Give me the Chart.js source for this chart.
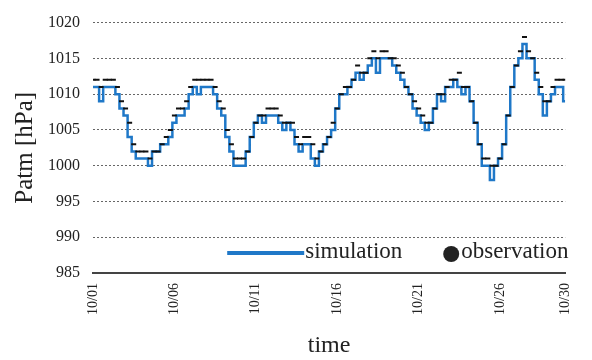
<!DOCTYPE html>
<html>
<head>
<meta charset="utf-8">
<script src="https://cdn.jsdelivr.net/npm/chart.js@4.4.0/dist/chart.umd.min.js"></script>
<style>
  html, body { margin: 0; padding: 0; background: #fff; }
  #wrap { width: 592px; height: 360px; position: relative; }
</style>
</head>
<body>
<div id="wrap"><canvas id="chart-line"></canvas></div>
<script>
// time axis: one value every 6 hours starting 10/01 00:00
const hoursPerStep = 6
const tickDays = [0, 5, 10, 15, 20, 25, 29]
const tickLabels = ['10/01', '10/06', '10/11', '10/16', '10/21', '10/26', '10/30']

const simulation = [
  1011, 1011, 1009, 1011,  1011, 1011, 1010, 1008,  1007, 1004, 1002, 1001,
  1001, 1001, 1000, 1002,  1002, 1003, 1003, 1004,  1006, 1007, 1007, 1008,
  1010, 1011, 1010, 1011,  1011, 1011, 1010, 1008,  1007, 1004, 1002, 1000,
  1000, 1000, 1002, 1004,  1006, 1007, 1006, 1007,  1007, 1007, 1006, 1005,
  1006, 1005, 1003, 1002,  1003, 1003, 1001, 1000,  1002, 1003, 1004, 1005,
  1008, 1010, 1010, 1011,  1012, 1013, 1012, 1013,  1014, 1015, 1013, 1015,
  1015, 1015, 1014, 1013,  1012, 1011, 1010, 1008,  1007, 1006, 1005, 1006,
  1008, 1010, 1009, 1011,  1011, 1012, 1011, 1010,  1011, 1009, 1006, 1003,
  1000, 1000, 998, 1000,   1001, 1003, 1007, 1011,  1014, 1015, 1017, 1015,
  1015, 1012, 1010, 1007,  1009, 1010, 1011, 1011,  1009
]

const observation = [
  1012, 1012, 1011, 1012,  1012, 1012, 1011, 1009,  1008, 1006, 1003, 1002,
  1002, 1002, 1001, 1002,  1002, 1003, 1004, 1005,  1007, 1008, 1008, 1009,
  1011, 1012, 1012, 1012,  1012, 1012, 1011, 1009,  1008, 1005, 1003, 1001,
  1001, 1001, 1002, 1004,  1006, 1007, 1007, 1008,  1008, 1008, 1007, 1006,
  1006, 1006, 1004, 1003,  1004, 1004, 1003, 1001,  1002, 1003, 1004, 1006,
  1008, 1010, 1011, 1011,  1012, 1014, 1013, 1013,  1015, 1016, 1015, 1016,
  1016, 1015, 1015, 1014,  1013, 1011, 1010, 1009,  1008, 1007, 1006, 1006,
  1008, 1010, 1010, 1011,  1012, 1012, 1013, 1011,  1011, 1009, 1006, 1003,
  1001, 1001, 1000, 1000,  1001, 1003, 1007, 1011,  1014, 1016, 1018, 1016,
  1015, 1013, 1011, 1009,  1009, 1011, 1012, 1012,  1012
]

const simColor = '#1f78c8'
const serif = '"Liberation Serif", "Times New Roman", serif'

function toPoints(arr) {
  return arr.map((v, i) => ({ x: i * hoursPerStep / 24, y: v }))
}

// legend drawn inside the plot, bottom right, like the original figure
const insideLegend = {
  id: 'insideLegend',
  afterDraw(chart) {
    const ctx = chart.ctx
    const area = chart.chartArea
    const y = area.bottom - 20
    ctx.save()
    ctx.font = '23px ' + serif
    ctx.textBaseline = 'middle'
    ctx.fillStyle = '#222'

    let x = area.right - 338
    ctx.strokeStyle = simColor
    ctx.lineWidth = 4
    ctx.beginPath()
    ctx.moveTo(x, y)
    ctx.lineTo(x + 77, y)
    ctx.stroke()
    ctx.fillText(chart.data.datasets[0].label, x + 78, y - 1)

    x = area.right - 114
    ctx.fillStyle = '#222'
    ctx.beginPath()
    ctx.arc(x, y + 1, 8, 0, Math.PI * 2)
    ctx.fill()
    ctx.fillText(chart.data.datasets[1].label, x + 10, y - 1)
    ctx.restore()
  }
}

var ctx = document.getElementById('chart-line')

var myLineChart = new Chart(ctx, {
  type: 'line',
  data: {
    datasets: [{
      label: 'simulation',
      data: toPoints(simulation),
      borderColor: simColor,
      borderWidth: 2.5,
      stepped: 'middle',
      pointRadius: 0,
      order: 2
    }, {
      label: 'observation',
      data: toPoints(observation),
      showLine: false,
      pointStyle: 'line',
      pointRadius: 2.5,
      borderColor: '#111',
      borderWidth: 2,
      order: 0
    }]
  },
  options: {
    responsive: true,
    maintainAspectRatio: false,
    animation: false,
    layout: { padding: { top: 14, right: 19, left: 0, bottom: 0 } },
    plugins: {
      legend: { display: false },
      tooltip: { enabled: false }
    },
    scales: {
      x: {
        type: 'linear',
        min: 0,
        max: 29,
        afterBuildTicks: (axis) => { axis.ticks = tickDays.map(v => ({ value: v })) },
        afterFit: (scale) => { scale.height = 87 },
        ticks: {
          minRotation: 90,
          maxRotation: 90,
          padding: 10,
          color: '#222',
          font: { family: serif, size: 14 },
          callback: (v) => tickLabels[tickDays.indexOf(v)]
        },
        grid: { display: false, drawTicks: false },
        border: { display: true, color: '#444', width: 2 },
        title: {
          display: true,
          text: 'time',
          color: '#222',
          font: { family: serif, size: 24 },
          padding: { top: 4, bottom: 0 }
        }
      },
      y: {
        min: 985,
        max: 1020,
        afterFit: (scale) => { scale.width = 93 },
        ticks: {
          stepSize: 5,
          padding: 13,
          color: '#222',
          font: { family: serif, size: 16 },
          callback: (v) => String(v)
        },
        grid: {
          drawTicks: false,
          color: (c) => c.tick && c.tick.value === 985 ? 'rgba(0,0,0,0)' : '#666',
          lineWidth: 1
        },
        border: { display: false, dash: [2, 2] },
        title: {
          display: true,
          text: 'Patm [hPa]',
          color: '#222',
          font: { family: serif, size: 25 },
          padding: { top: 10, bottom: 0 }
        }
      }
    }
  },
  plugins: [insideLegend]
})
</script>
</body>
</html>
